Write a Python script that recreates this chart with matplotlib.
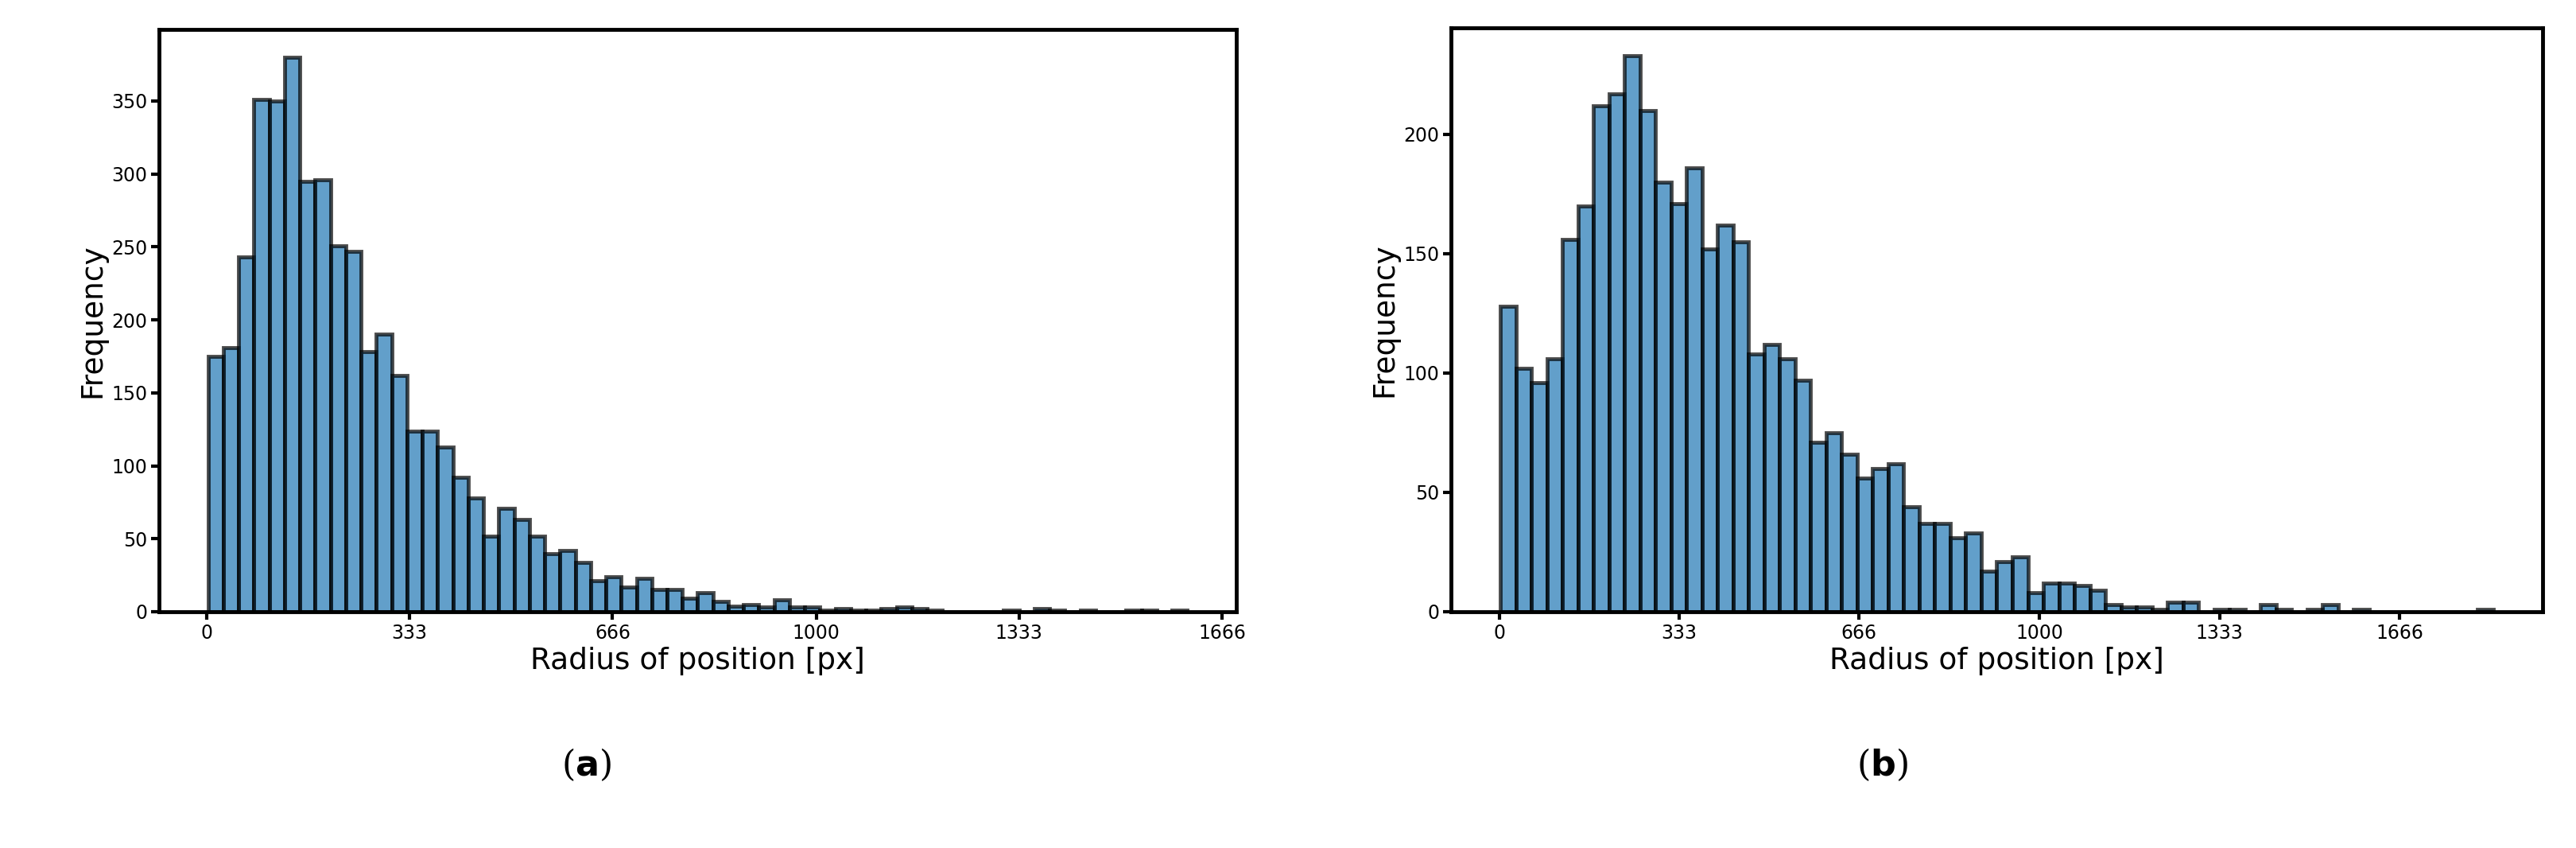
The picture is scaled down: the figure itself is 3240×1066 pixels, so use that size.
import numpy as np
import matplotlib
matplotlib.use("Agg")
import matplotlib.pyplot as plt

# (a) histogram counts, 64 bins
counts_a = [175, 181, 243, 351, 350, 380, 295, 296, 251, 247, 178, 190, 162, 124, 124, 113,
            92, 78, 52, 71, 63, 52, 40, 42, 34, 21, 24, 17, 23, 15, 15, 9,
            13, 7, 4, 5, 3, 8, 3, 3, 1, 2, 1, 1, 2, 3, 2, 1,
            0, 0, 0, 0, 1, 0, 2, 1, 0, 1, 0, 0, 1, 1, 0, 1]
range_a = (2.3, 1609)

# (b) histogram counts, 64 bins
counts_b = [128, 102, 96, 106, 156, 170, 212, 217, 233, 210, 180, 171, 186, 152, 162, 155,
            108, 112, 106, 97, 71, 75, 66, 56, 60, 62, 44, 37, 37, 31, 33, 17,
            21, 23, 8, 12, 12, 11, 9, 3, 2, 2, 1, 4, 4, 0, 1, 1,
            0, 3, 1, 0, 1, 3, 0, 1, 0, 0, 0, 0, 0, 0, 0, 1]
range_b = (2.6, 1839)

xticks = [0, 333, 666, 1000, 1333, 1666]

fig = plt.figure(figsize=(32.41, 10.66), dpi=100)
ax_a = fig.add_axes([200 / 3241, 1 - 769 / 1066, 1355 / 3241, 732 / 1066])
ax_b = fig.add_axes([1825 / 3241, 1 - 769 / 1066, 1373 / 3241, 734 / 1066])

for ax, counts, rng, yt, cap in [(ax_a, counts_a, range_a, range(0, 351, 50), 'a'),
                                  (ax_b, counts_b, range_b, range(0, 201, 50), 'b')]:
    edges = np.linspace(rng[0], rng[1], len(counts) + 1)
    ax.hist(edges[:-1], bins=edges, weights=counts, color='#1f77b4', alpha=0.7,
            edgecolor='black', linewidth=3.5)
    ax.set_xticks(xticks)
    ax.set_yticks(list(yt))
    ax.tick_params(labelsize=17, width=3, length=7)
    for s in ax.spines.values():
        s.set_linewidth(3.5)
    ax.set_xlabel('Radius of position [px]', fontsize=27)
    ax.set_ylabel('Frequency', fontsize=27)

fig.text(738 / 3241, 1 - 961 / 1066, r'($\mathbf{a}$)', fontsize=32, family='serif',
         ha='center', va='center')
fig.text(2367 / 3241, 1 - 961 / 1066, r'($\mathbf{b}$)', fontsize=32, family='serif',
         ha='center', va='center')

fig.savefig('out.png', dpi=100)
